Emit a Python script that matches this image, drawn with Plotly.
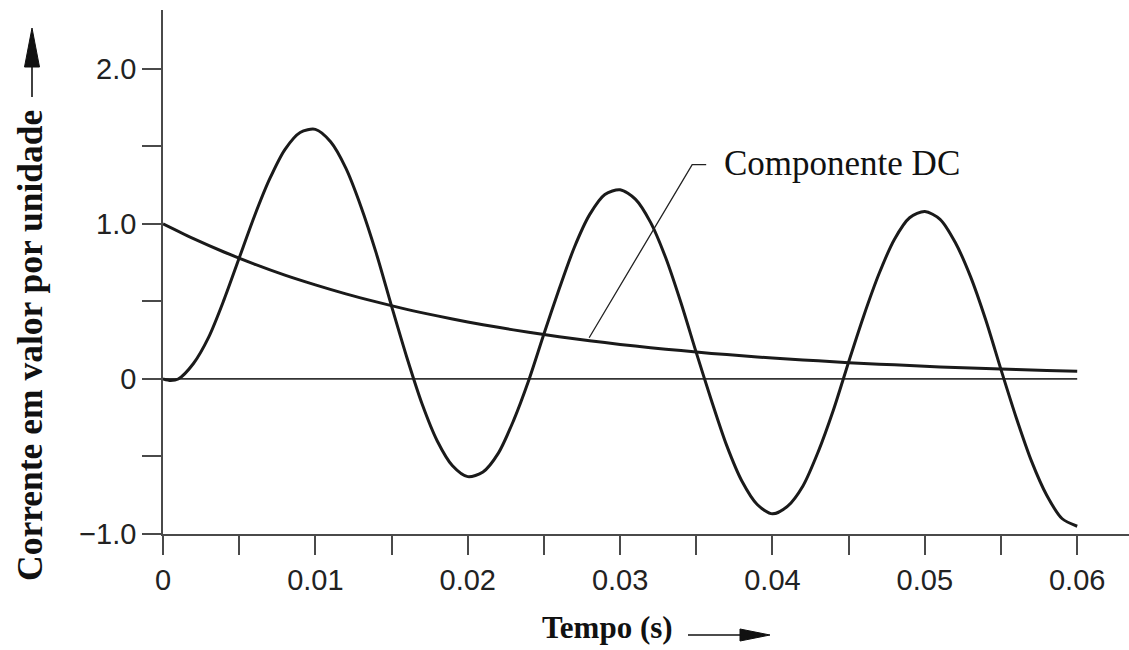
import plotly.graph_objects as go

# ---- data ----
t_total = [0, 0.0005, 0.001, 0.002, 0.003, 0.004, 0.005, 0.006, 0.007, 0.008, 0.009,
           0.010, 0.011, 0.012, 0.013, 0.014, 0.015, 0.016, 0.017, 0.018, 0.019,
           0.020, 0.021, 0.022, 0.023, 0.024, 0.025, 0.026, 0.027, 0.028, 0.029,
           0.030, 0.031, 0.032, 0.033, 0.034, 0.035, 0.036, 0.037, 0.038, 0.039,
           0.040, 0.041, 0.042, 0.043, 0.044, 0.045, 0.046, 0.047, 0.048, 0.049,
           0.050, 0.051, 0.052, 0.053, 0.054, 0.055, 0.056, 0.057, 0.058, 0.059, 0.060]
i_total = [0.0, -0.01, 0.0, 0.10, 0.27, 0.51, 0.78, 1.05, 1.29, 1.48, 1.59,
           1.61, 1.53, 1.36, 1.11, 0.81, 0.47, 0.14, -0.16, -0.40, -0.56,
           -0.63, -0.60, -0.48, -0.27, -0.01, 0.29, 0.58, 0.85, 1.06, 1.19,
           1.22, 1.16, 1.01, 0.78, 0.49, 0.17, -0.14, -0.43, -0.66, -0.81,
           -0.87, -0.82, -0.69, -0.47, -0.20, 0.11, 0.41, 0.68, 0.90, 1.04,
           1.08, 1.03, 0.88, 0.66, 0.38, 0.06, -0.25, -0.53, -0.75, -0.90, -0.95]

t_dc = [0, 0.002, 0.004, 0.006, 0.008, 0.010, 0.012, 0.014, 0.016, 0.018, 0.020,
        0.022, 0.024, 0.026, 0.028, 0.030, 0.032, 0.034, 0.036, 0.038, 0.040,
        0.042, 0.044, 0.046, 0.048, 0.050, 0.052, 0.054, 0.056, 0.058, 0.060]
i_dc = [1.00, 0.905, 0.819, 0.741, 0.670, 0.607, 0.549, 0.497, 0.449, 0.407, 0.368,
        0.333, 0.301, 0.273, 0.247, 0.223, 0.202, 0.183, 0.165, 0.150, 0.135,
        0.123, 0.111, 0.100, 0.091, 0.082, 0.074, 0.067, 0.061, 0.055, 0.050]

zero_x = [0, 0.06]
zero_y = [0, 0]

x_tickvals = [0, 0.005, 0.01, 0.015, 0.02, 0.025, 0.03, 0.035, 0.04, 0.045, 0.05, 0.055, 0.06]
x_ticktext = ["0", "", "0.01", "", "0.02", "", "0.03", "", "0.04", "", "0.05", "", "0.06"]
y_tickvals = [-1.0, -0.5, 0, 0.5, 1.0, 1.5, 2.0]
y_ticktext = ["\u22121.0", "", "0", "", "1.0", "", "2.0"]

x_title = "Tempo (s)"
y_title = "Corrente em valor por unidade"
dc_label = "Componente DC"

# ---- figure ----
W, H = 1129, 650
L, R, T, B = 163, 0, 10, 116
pw, ph = W - L - R, H - T - B

def px(x):
    return (x - L) / pw

def py(y):
    return (H - B - y) / ph

curve = dict(color="#1a1a1a", width=3)

fig = go.Figure()
fig.add_trace(go.Scatter(x=zero_x, y=zero_y, mode="lines",
                         line=dict(color="#333333", width=1.8), hoverinfo="skip"))
fig.add_trace(go.Scatter(x=t_dc, y=i_dc, mode="lines",
                         line=dict(curve, shape="spline", smoothing=0.8)))
fig.add_trace(go.Scatter(x=t_total, y=i_total, mode="lines",
                         line=dict(curve, shape="spline", smoothing=0.8)))

axis_col = "#4a4a4a"
tick_font = dict(family="Liberation Sans, Arial, sans-serif", size=29, color="#222222")

fig.update_xaxes(range=[0, 0.0634], showgrid=False, zeroline=False,
                 showline=True, linecolor=axis_col, linewidth=1.6,
                 ticks="outside", ticklen=19, tickwidth=1.6, tickcolor=axis_col,
                 tickvals=x_tickvals, ticktext=x_ticktext, tickfont=tick_font)
fig.update_yaxes(range=[-1.0, 2.38], showgrid=False, zeroline=False,
                 showline=True, linecolor=axis_col, linewidth=1.6,
                 ticks="outside", ticklen=19, tickwidth=1.6, tickcolor=axis_col,
                 tickvals=y_tickvals, ticktext=y_ticktext, tickfont=tick_font)

serif_bold = dict(family="Liberation Serif, Times New Roman, serif", size=31, color="#111111")

annotations = [
    dict(text="<b>" + x_title + "</b>", xref="paper", yref="paper",
         x=px(607), y=py(627), showarrow=False, xanchor="center", yanchor="middle",
         font=serif_bold),
    dict(text="<b>" + y_title + "</b>", xref="paper", yref="paper",
         x=px(30), y=py(346), showarrow=False, xanchor="center", yanchor="middle",
         textangle=-90, font=dict(serif_bold, size=35.5)),
    dict(text=dc_label, xref="x", yref="y", x=0.0367, y=1.39,
         showarrow=False, xanchor="left", yanchor="middle",
         font=dict(family="Liberation Serif, Times New Roman, serif", size=35, color="#111111")),
]

shapes = [
    # leader line to DC component
    dict(type="path", xref="x", yref="y",
         path="M 0.02797 0.266 L 0.03473 1.383 L 0.03565 1.383",
         line=dict(color="#222222", width=1.3)),
    # y-title arrow
    dict(type="line", xref="paper", yref="paper",
         x0=px(32), x1=px(32), y0=py(97), y1=py(60),
         line=dict(color="#111111", width=1.6)),
    dict(type="path", xref="paper", yref="paper",
         path=f"M {px(32)} {py(28)} L {px(24.5)} {py(67)} L {px(39.5)} {py(67)} Z",
         fillcolor="#111111", line=dict(color="#111111", width=1)),
    # x-title arrow
    dict(type="line", xref="paper", yref="paper",
         x0=px(688), x1=px(745), y0=py(635), y1=py(635),
         line=dict(color="#111111", width=1.6)),
    dict(type="path", xref="paper", yref="paper",
         path=f"M {px(770)} {py(635)} L {px(740)} {py(629)} L {px(740)} {py(641)} Z",
         fillcolor="#111111", line=dict(color="#111111", width=1)),
]

fig.update_layout(width=W, height=H, margin=dict(l=L, r=R, t=T, b=B),
                  paper_bgcolor="white", plot_bgcolor="white", showlegend=False,
                  annotations=annotations, shapes=shapes)

fig.write_html("out.html", config={"displayModeBar": False},
               post_script="document.body.style.margin='0';document.body.style.overflow='hidden';")
